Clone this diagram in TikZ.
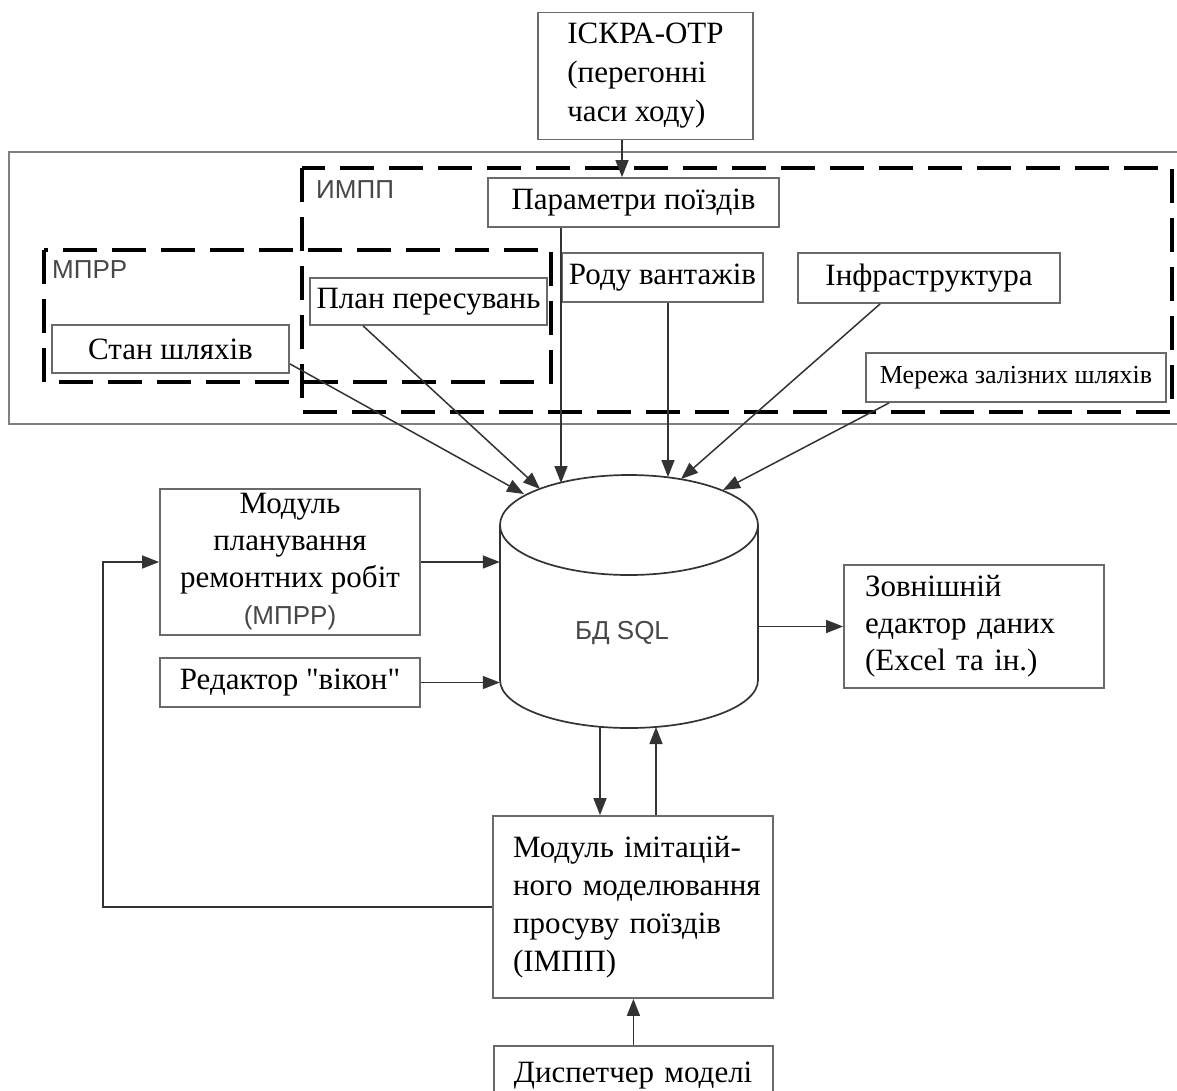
\documentclass[tikz,border=0pt]{standalone}
\usepackage{fontspec}
\setmainfont{Liberation Serif}[Ligatures=TeXOff]
\setsansfont{Liberation Sans}
\usetikzlibrary{arrows.meta,calc}
\definecolor{boxgray}{HTML}{6A6A6A}
\definecolor{linegray}{HTML}{333333}
\definecolor{labgray}{HTML}{474747}
\begin{document}
\begin{tikzpicture}[x=1pt,y=-1pt,
  box/.style={draw=boxgray, fill=white, line width=1.8pt, inner sep=0pt, text=black,
    font=\fontsize{31}{38}\selectfont},
  arr/.style={draw=linegray, line width=1.5pt, -{Triangle[length=17pt,width=13pt]}},
  cyl/.style={draw=linegray, line width=1.7pt},
  dframe/.style={draw=black, line width=4.5pt, dash pattern=on 34pt off 15pt},
  lab/.style={font=\sffamily\fontsize{26}{30}\selectfont, text=labgray, inner sep=0pt}
]
\useasboundingbox (0,0) rectangle (1177,1090);
\fill[white] (0,0) rectangle (1177,1090);
\clip (0,0) rectangle (1177,1090);

% outer frame and dashed groups
\draw[draw=boxgray!85, line width=2pt] (9,152) rectangle (1200,424);
\draw[dframe] (302,168) rectangle (1172,412);
\draw[dframe] (44,250) rectangle (551,382);
\node[lab, anchor=west] (mprrlab) at (52,270) {МПРР};
\node[lab, anchor=west] (impplab) at (316,190) {ИМПП};

% top boxes
\node[box, minimum width=215pt, minimum height=127pt, align=left, font=\fontsize{31}{39}\selectfont] (iskra) at (645.5,76)
  {ІСКРА-ОТР\\(перегонні\\часи ходу)};
\node[box, minimum width=291pt, minimum height=49pt] (params) at (633.5,202.5) {Параметри поїздів};
\node[box, minimum width=201pt, minimum height=49pt] (rodu) at (662.5,277.5) {Роду вантажів};
\node[box, minimum width=262pt, minimum height=50pt] (infra) at (929,278) {Інфраструктура};
\node[box, minimum width=300pt, minimum height=49pt, font=\fontsize{26}{30}\selectfont] (merezha) at (1016,377.5) {Мережа залізних шляхів};
\node[box, minimum width=237pt, minimum height=47pt] (plan) at (428.5,301.5) {План пересувань};
\node[box, minimum width=237pt, minimum height=48pt] (stan) at (170.5,349) {Стан шляхів};

% database cylinder
\node[minimum width=258pt, minimum height=253pt, inner sep=0pt] (db) at (629,601.5) {};
\draw[cyl] (629,525) ellipse [x radius=129pt, y radius=50pt];
\draw[cyl] (500,525) -- (500,680) arc[start angle=180, end angle=360, x radius=129pt, y radius=48pt] -- (758,525);
\node[lab] (dbl) at (622,633) {БД SQL};

% middle boxes
\node[box, minimum width=260pt, minimum height=146pt, align=center, font=\fontsize{31}{37}\selectfont] (mprr) at (290,562)
  {Модуль\\планування\\ремонтних робіт\\{\sffamily\fontsize{26}{30}\selectfont\color{labgray}(МПРР)}};
\node[box, minimum width=260pt, minimum height=49pt] (red) at (290,682.5) {Редактор "вікон"};
\node[box, minimum height=123pt, text width=218pt, inner xsep=21pt, align=left, font=\fontsize{31}{37}\selectfont] (ext) at (974,626.5)
  {Зовнішній\\едактор даних\\(Excel та ін.)};
\node[box, minimum height=182pt, text width=240pt, inner xsep=20pt, align=left] (imp) at (633,907)
  {\mbox{Модуль імітацій-}\\\mbox{ного моделювання}\\\mbox{просуву поїздів}\\(ІМПП)};
\node[box, anchor=north west, text width=239pt, inner xsep=20pt, inner ysep=16pt, text depth=30pt, align=left] (disp) at (493,1045)
  {\mbox{Диспетчер моделі}};

% connectors
\coordinate (iskraout) at ([xshift=-23.5pt]iskra.south);
\draw[arr] (iskraout) -- (iskraout |- params.north);

\coordinate (t1) at (524,494);
\coordinate (t2) at (540,489);
\coordinate (t3) at (561,483);
\coordinate (t4) at (668,477);
\coordinate (t5) at (681,479);
\coordinate (t6) at (723,490);
\draw[arr] ($(stan.south east)+(0,-10)$) -- (t1);
\draw[arr] ($(plan.south west)+(54,0)$) -- (t2);
\draw[arr] (t3 |- params.south) -- (t3);
\draw[arr] (t4 |- rodu.south) -- (t4);
\draw[arr] ($(infra.south west)+(83,0)$) -- (t5);
\draw[arr] ($(merezha.south west)+(24,0)$) -- (t6);

\draw[arr] (mprr.east) -- (mprr.east -| db.west);
\draw[arr] (red.east) -- (red.east -| db.west);
\draw[arr] (ext.west -| db.east) -- (ext.west);

\coordinate (b1) at (600,727);
\coordinate (b2) at (656,727);
\draw[arr] (b1) -- (b1 |- imp.north);
\draw[arr] (b2 |- imp.north) -- (b2);
\draw[arr] (disp.north) -- (disp.north |- imp.south);
\draw[arr] (imp.west) -- ++(-389,0) |- (mprr.west);
\end{tikzpicture}
\end{document}
